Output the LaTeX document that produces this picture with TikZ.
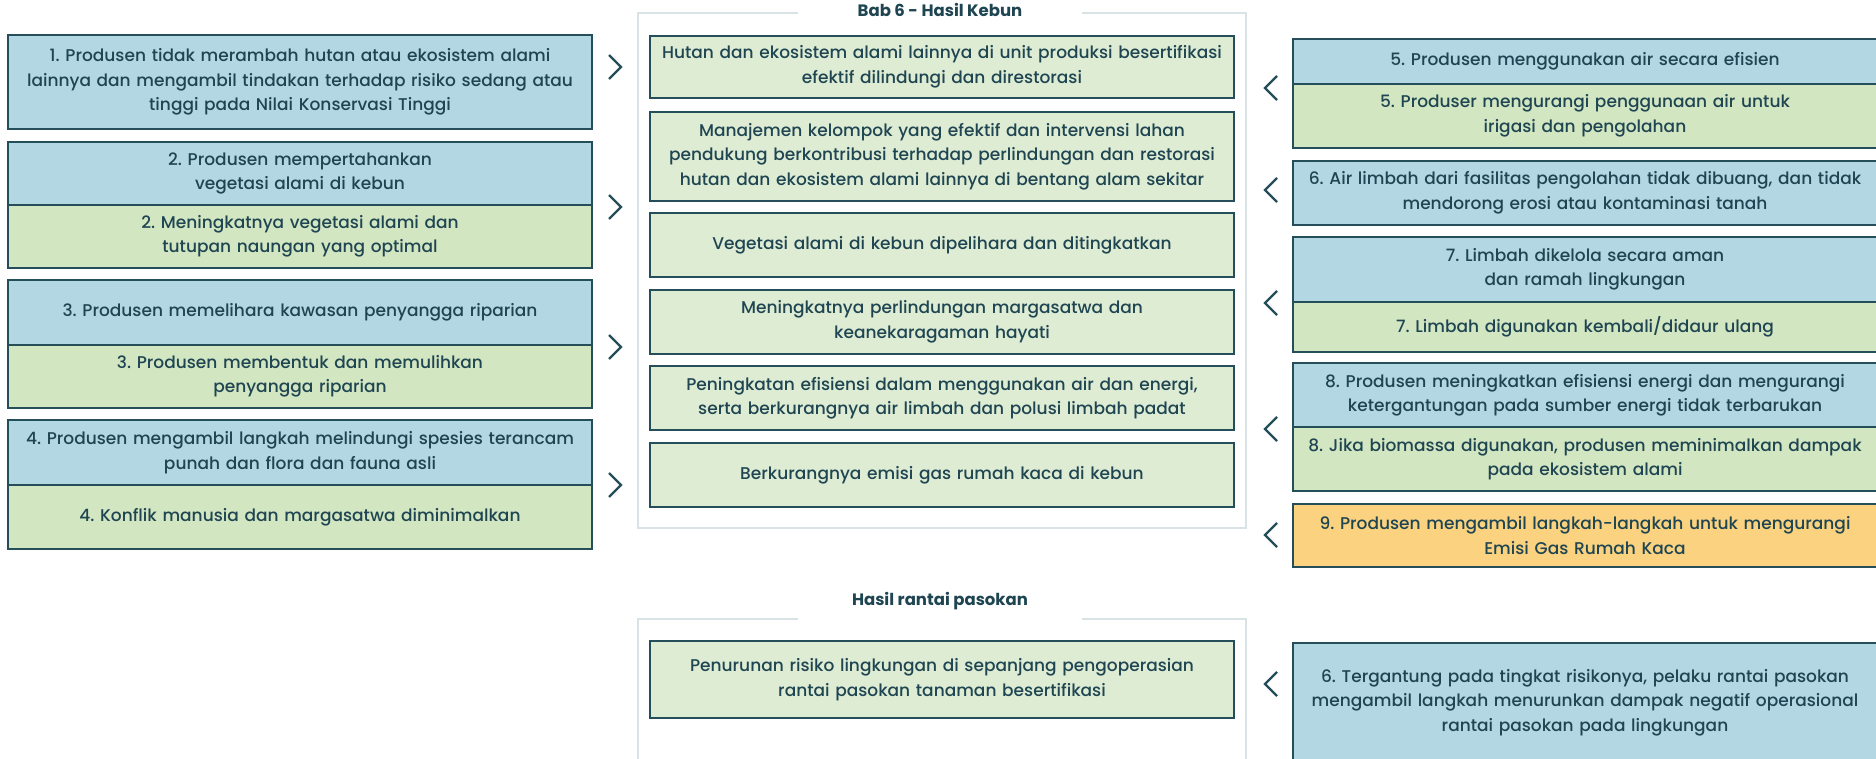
\documentclass[tikz,border=0pt]{standalone}
\usepackage{fontspec}
\setmainfont{Poppins}[UprightFont=* Medium, BoldFont=* Bold]
\usetikzlibrary{calc}
\frenchspacing
\definecolor{bluefill}{HTML}{B4D8E3}
\definecolor{greenfill}{HTML}{D3E6C2}
\definecolor{midfill}{HTML}{DEECD4}
\definecolor{yellowfill}{HTML}{FAD280}
\definecolor{edge}{HTML}{234E5A}
\definecolor{ink}{HTML}{1E4551}
\definecolor{frame}{HTML}{D9E2E4}
\tikzset{
  box/.style={draw=edge, line width=1.6pt, text=ink, align=center, minimum width=584pt, text width=570pt, inner sep=0pt, font=\fontsize{17}{24.5}\selectfont\frenchspacing},
  bluebox/.style={box, fill=bluefill},
  greenbox/.style={box, fill=greenfill},
  midbox/.style={box, fill=midfill},
  yellowbox/.style={box, fill=yellowfill},
  chev/.style={draw=edge, line width=2.2pt, line join=miter},
  frameline/.style={draw=frame, line width=1.5pt},
  titletext/.style={text=ink, font=\fontsize{16.5}{20}\selectfont\bfseries, inner sep=0pt}
}
\begin{document}
\begin{tikzpicture}[x=1pt,y=-1pt]
\useasboundingbox (0,0) rectangle (1876,759);
\fill[white] (0,0) rectangle (1876,759);
\begin{scope}
\clip (0,0) rectangle (1876,759);
% ---------- containers ----------
\node[titletext] (t1) at (940,10) {Bab 6 - Hasil Kebun};
\coordinate (t1l) at (798,13);
\coordinate (t1r) at (1082,13);
\draw[frameline] (t1l) -- (638,13) -- (638,528) -- (1246,528) -- (1246,13) -- (t1r);
\node[titletext] (t2) at (940,601) {Hasil rantai pasokan};
\coordinate (t2l) at (798,619);
\coordinate (t2r) at (1082,619);
\draw[frameline] (t2l) -- (638,619) -- (638,790) (1246,790) -- (1246,619) -- (t2r);
% ---------- left column ----------
\node[bluebox, minimum height=94pt] (l1) at (300,82) {1. Produsen tidak merambah hutan atau ekosistem alami\\lainnya dan mengambil tindakan terhadap risiko sedang atau\\tinggi pada Nilai Konservasi Tinggi};
\node[bluebox, minimum height=63pt] (l2a) at (300,173.5) {2. Produsen mempertahankan\\vegetasi alami di kebun};
\node[greenbox, minimum height=63pt] (l2b) at (300,236.5) {2. Meningkatnya vegetasi alami dan\\tutupan naungan yang optimal};
\node[bluebox, minimum height=65pt] (l3a) at (300,312.5) {3. Produsen memelihara kawasan penyangga riparian};
\node[greenbox, minimum height=63pt] (l3b) at (300,376.5) {3. Produsen membentuk dan memulihkan\\penyangga riparian};
\node[bluebox, minimum height=65pt] (l4a) at (300,452.5) {4. Produsen mengambil langkah melindungi spesies terancam\\punah dan flora dan fauna asli};
\node[greenbox, minimum height=64pt] (l4b) at (300,517) {4. Konflik manusia dan margasatwa diminimalkan};
% ---------- middle column ----------
\node[midbox, minimum height=62pt] (m1) at (942,67) {Hutan dan ekosistem alami lainnya di unit produksi besertifikasi\\efektif dilindungi dan direstorasi};
\node[midbox, minimum height=89pt] (m2) at (942,156.5) {Manajemen kelompok yang efektif dan intervensi lahan\\pendukung berkontribusi terhadap perlindungan dan restorasi\\hutan dan ekosistem alami lainnya di bentang alam sekitar};
\node[midbox, minimum height=64pt] (m3) at (942,245) {Vegetasi alami di kebun dipelihara dan ditingkatkan};
\node[midbox, minimum height=64pt] (m4) at (942,322) {Meningkatnya perlindungan margasatwa dan\\keanekaragaman hayati};
\node[midbox, minimum height=64pt] (m5) at (942,398) {Peningkatan efisiensi dalam menggunakan air dan energi,\\serta berkurangnya air limbah dan polusi limbah padat};
\node[midbox, minimum height=64pt] (m6) at (942,475) {Berkurangnya emisi gas rumah kaca di kebun};
\node[midbox, minimum height=77pt] (bm) at (942,679.5) {Penurunan risiko lingkungan di sepanjang pengoperasian\\rantai pasokan tanaman besertifikasi};
% ---------- right column ----------
\node[bluebox, minimum height=45pt] (r5a) at (1585,61.5) {5. Produsen menggunakan air secara efisien};
\node[greenbox, minimum height=64pt] (r5b) at (1585,116) {5. Produser mengurangi penggunaan air untuk\\irigasi dan pengolahan};
\node[bluebox, minimum height=64pt] (r6) at (1585,193) {6. Air limbah dari fasilitas pengolahan tidak dibuang, dan tidak\\mendorong erosi atau kontaminasi tanah};
\node[bluebox, minimum height=65pt] (r7a) at (1585,269.5) {7. Limbah dikelola secara aman\\dan ramah lingkungan};
\node[greenbox, minimum height=50pt] (r7b) at (1585,327) {7. Limbah digunakan kembali/didaur ulang};
\node[bluebox, minimum height=64pt] (r8a) at (1585,395) {8. Produsen meningkatkan efisiensi energi dan mengurangi\\ketergantungan pada sumber energi tidak terbarukan};
\node[greenbox, minimum height=64pt] (r8b) at (1585,459) {8. Jika biomassa digunakan, produsen meminimalkan dampak\\pada ekosistem alami};
\node[yellowbox, minimum height=63pt] (r9) at (1585,535.5) {9. Produsen mengambil langkah-langkah untuk mengurangi\\Emisi Gas Rumah Kaca};
\node[bluebox, minimum height=119pt] (br) at (1585,702.5) {6. Tergantung pada tingkat risikonya, pelaku rantai pasokan\\mengambil langkah menurunkan dampak negatif operasional\\rantai pasokan pada lingkungan};
% ---------- chevrons ----------
\foreach \n/\y in {a/67, b/207, c/347, d/485} {
  \coordinate (kl\n) at (615,\y);
  \draw[chev] ($(kl\n)+(-6,-12)$) -- ($(kl\n)+(6,0)$) -- ($(kl\n)+(-6,12)$);
}
\foreach \n/\y in {a/88, b/190, c/303, d/429, e/535, f/684} {
  \coordinate (kr\n) at (1271,\y);
  \draw[chev] ($(kr\n)+(6,-12)$) -- ($(kr\n)+(-6,0)$) -- ($(kr\n)+(6,12)$);
}
\end{scope}
\end{tikzpicture}
\end{document}
